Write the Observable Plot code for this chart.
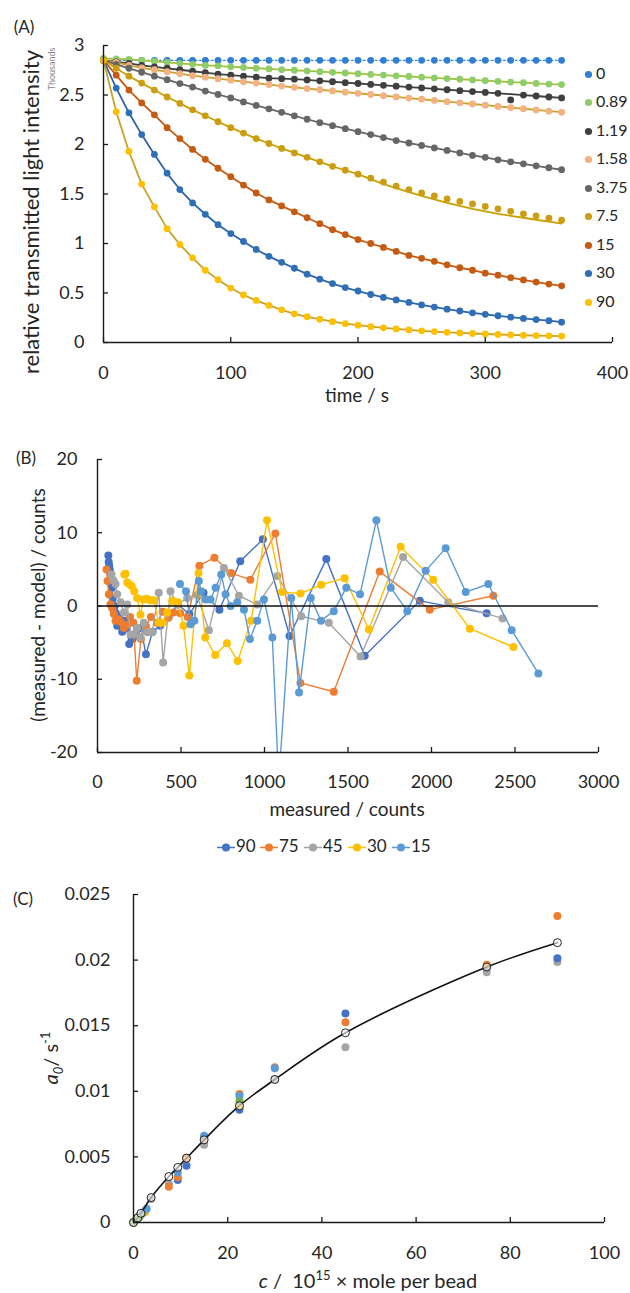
<!DOCTYPE html>
<html><head><meta charset="utf-8">
<script src="https://cdn.jsdelivr.net/npm/d3@7"></script>
<script src="https://cdn.jsdelivr.net/npm/@observablehq/plot@0.6"></script>
<style>
html,body{margin:0;padding:0;background:#fff;}
#fig{position:relative;width:630px;height:1293px;font-family:Lato,"Open Sans",sans-serif;color:#262626;overflow:hidden;}
#fig svg.panel{position:absolute;left:0;}
.t{position:absolute;white-space:nowrap;line-height:1;}
.c{transform:translate(-50%,-50%);}
.l{transform:translate(0,-50%);}
.r{transform:translate(-50%,-50%) rotate(-90deg);}
sup,sub{font-size:65%;line-height:0;}
</style></head><body><div id="fig"></div>
<script>
// ---------------- Panel A data ----------------
const timesA = [0,10,20,30,40,50,60,70,80,90,100,110,120,130,140,150,160,170,180,190,200,210,220,230,240,250,260,270,280,290,300,310,320,330,340,350,360];
const seriesA = ["0","0.89","1.19","1.58","3.75","7.5","15","30","90"];
const a_0   = [2.85,2.85,2.85,2.85,2.85,2.85,2.85,2.85,2.85,2.85,2.85,2.85,2.85,2.85,2.85,2.85,2.85,2.85,2.85,2.85,2.85,2.85,2.85,2.85,2.85,2.85,2.85,2.85,2.85,2.85,2.85,2.85,2.85,2.85,2.85,2.85,2.85];
const a_089 = [2.87,2.865,2.86,2.85,2.84,2.83,2.82,2.81,2.80,2.795,2.785,2.778,2.77,2.763,2.756,2.75,2.743,2.736,2.729,2.722,2.715,2.708,2.701,2.694,2.687,2.68,2.673,2.666,2.659,2.652,2.645,2.638,2.631,2.624,2.617,2.61,2.605];
const a_119 = [2.85,2.835,2.82,2.80,2.785,2.77,2.755,2.74,2.725,2.71,2.70,2.69,2.68,2.67,2.665,2.66,2.652,2.643,2.634,2.625,2.616,2.607,2.598,2.589,2.58,2.571,2.562,2.553,2.544,2.535,2.526,2.517,2.45,2.499,2.49,2.48,2.47];
const a_158 = [2.85,2.83,2.80,2.775,2.755,2.735,2.715,2.695,2.68,2.665,2.65,2.635,2.62,2.605,2.59,2.578,2.565,2.553,2.541,2.529,2.517,2.505,2.493,2.481,2.469,2.457,2.445,2.433,2.421,2.409,2.397,2.385,2.373,2.361,2.349,2.337,2.326];
const a_375 = [2.85,2.81,2.77,2.73,2.69,2.655,2.615,2.58,2.54,2.505,2.47,2.43,2.395,2.36,2.325,2.29,2.255,2.22,2.19,2.16,2.13,2.10,2.07,2.04,2.015,1.99,1.965,1.94,1.915,1.89,1.87,1.845,1.825,1.805,1.785,1.765,1.745];
const a_75  = [2.85,2.77,2.69,2.62,2.55,2.48,2.415,2.35,2.29,2.23,2.17,2.115,2.06,2.01,1.96,1.915,1.87,1.825,1.78,1.74,1.70,1.66,1.62,1.58,1.545,1.51,1.48,1.45,1.425,1.40,1.375,1.35,1.325,1.30,1.28,1.255,1.235];
const a_15  = [2.85,2.70,2.55,2.42,2.30,2.17,2.06,1.95,1.85,1.76,1.675,1.59,1.51,1.44,1.38,1.32,1.26,1.20,1.14,1.09,1.04,1.00,0.96,0.92,0.88,0.85,0.82,0.785,0.755,0.73,0.70,0.68,0.655,0.632,0.61,0.59,0.572];
const a_30  = [2.85,2.57,2.32,2.10,1.90,1.71,1.545,1.41,1.295,1.19,1.10,1.02,0.94,0.87,0.81,0.75,0.69,0.64,0.595,0.555,0.52,0.485,0.455,0.43,0.405,0.38,0.358,0.337,0.318,0.30,0.285,0.27,0.256,0.243,0.232,0.22,0.205];
const a_90  = [2.85,2.33,1.93,1.60,1.37,1.15,0.99,0.855,0.73,0.635,0.55,0.48,0.425,0.375,0.33,0.29,0.26,0.235,0.21,0.19,0.175,0.16,0.148,0.137,0.127,0.118,0.11,0.103,0.097,0.091,0.086,0.081,0.077,0.073,0.07,0.067,0.065];
const fit_119 = [2.85,2.835,2.82,2.80,2.785,2.77,2.755,2.74,2.725,2.71,2.70,2.69,2.68,2.67,2.665,2.66,2.652,2.643,2.634,2.625,2.616,2.607,2.598,2.589,2.58,2.571,2.562,2.553,2.544,2.535,2.526,2.517,2.508,2.499,2.49,2.48,2.47];
const fit_75  = [2.85,2.77,2.69,2.62,2.55,2.48,2.415,2.35,2.29,2.23,2.17,2.115,2.06,2.01,1.96,1.915,1.87,1.825,1.78,1.74,1.70,1.65,1.60,1.56,1.52,1.48,1.445,1.41,1.38,1.35,1.325,1.30,1.28,1.26,1.24,1.22,1.20];
const valuesA = [a_0,a_089,a_119,a_158,a_375,a_75,a_15,a_30,a_90];
const fitsA   = [a_0,a_089,fit_119,a_158,a_375,fit_75,a_15,a_30,a_90];
const yTicksA = [0,0.5,1,1.5,2,2.5,3];
const xTicksA = [0,100,200,300,400];
const dotColorsA  = ["#2f7fd3","#8ccf6a","#3f3f3f","#f4b183","#666666","#cc9d12","#c55a11","#2e6fb8","#ffc000"];
const lineColorsA = ["#2f7fd3","#a9bd3a","#3f3f3f","#c9a227","#666666","#c9a000","#c55a11","#2e64a8","#c9a227"];

// ---------------- Panel B data ----------------
const seriesB = ["90","75","45","30","15"];
const b90_x = [2330,1930,1600,1370,1150,990,855,730,635,550,480,425,375,330,290,260,235,210,190,175,160,148,137,127,118,110,103,97,91,86,81,77,73,70,67,65];
const b90_y = [-1.0,0.7,-6.8,6.4,-4.1,9.1,6.1,-0.5,1.8,-1.1,0.2,-1.5,-2.7,-3.5,-6.6,-3.0,-4.0,-4.5,-5.2,-3.0,-2.0,-3.5,-2.5,-1.5,-2.7,-1.0,0.0,-0.5,1.0,2.5,3.0,4.5,5.0,5.5,6.0,6.9];
const b75_x = [2370,1990,1690,1415,1215,1065,915,800,700,610,540,495,455,425,390,357,320,290,260,235,215,195,175,158,140,125,108,98,88,78,68,60,54];
const b75_y = [1.4,-0.5,4.7,-11.7,-10.5,9.9,3.6,4.5,6.6,5.5,-1.5,-1.0,-0.9,-1.6,-0.8,-2.3,-1.5,-2.8,-4.5,-10.2,-2.3,-1.5,-2.6,-3.0,-2.2,-1.8,-2.0,-1.1,-0.3,0.2,1.6,3.4,5.0];
const b45_x = [2425,2100,1830,1575,1385,1220,1077,957,847,757,667,595,537,480,437,393,367,327,298,277,257,237,218,198,178,158,138,118,108,95,84];
const b45_y = [-1.7,0.5,6.7,-6.9,-2.3,-1.4,4.1,0.2,1.4,5.2,-3.3,1.5,1.1,0.2,2.0,-7.7,1.8,-3.6,-3.6,-2.3,-4.3,-3.0,-3.9,-3.9,0.2,-0.9,0.5,1.6,3.0,3.5,4.3];
const b30_x = [2490,2230,2010,1815,1625,1480,1340,1215,1105,1015,920,840,775,705,645,605,550,515,480,447,417,390,367,337,315,295,275,257,237,220,205,190,178,168,160];
const b30_y = [-5.6,-3.1,3.6,8.1,-3.2,3.8,2.9,1.7,1.9,11.7,-2.0,-7.5,-5.1,-6.7,-4.3,4.5,-9.5,-2.7,0.5,0.7,-0.9,-2.3,-2.3,0.8,0.8,1.0,0.9,-1.2,1.1,2.0,2.7,3.0,3.2,4.4,4.3];
const b15_x = [2640,2480,2340,2205,2085,1965,1855,1756,1670,1572,1490,1415,1338,1277,1207,1160,1085,1047,997,957,913,877,837,797,767,741,707,677,647,620,607,580,557,530,494];
const b15_y = [-9.2,-3.3,3.0,1.9,7.9,4.8,-0.7,2.5,11.7,1.6,2.5,-0.7,-2.0,1.1,-11.8,1.1,-24,-4.3,0.9,-2.0,-4.5,-0.5,0.5,0.0,1.6,4.3,2.5,0.9,0.9,2.0,3.4,-2.0,-2.5,2.0,3.0];
const xsB = [b90_x,b75_x,b45_x,b30_x,b15_x];
const ysB = [b90_y,b75_y,b45_y,b30_y,b15_y];
const colorsB = ["#4472c4","#ed7d31","#a5a5a5","#ffc000","#5b9bd5"];
const yTicksB = [-20,-10,0,10,20];
const xTicksB = [0,500,1000,1500,2000,2500,3000];

// ---------------- Panel C data ----------------
const seriesC = ["blue","orange","gray","yellow","lightblue","green"];
const cBlue_x = [0,1.19,2.5,9.4,11.25,15,22.5,45,75,90];
const cBlue_y = [0,0.0005,0.0009,0.00324,0.00433,0.0065,0.0086,0.01593,0.0195,0.02015];
const cOrange_x = [0,1.58,7.5,9.4,11.25,15,22.5,30,45,75,90];
const cOrange_y = [0,0.0006,0.00272,0.00344,0.0049,0.00644,0.0098,0.01183,0.01527,0.01965,0.02336];
const cGray_x = [0,3.75,7.5,11.25,15,22.5,30,45,75,90];
const cGray_y = [0,0.0018,0.00298,0.00496,0.00593,0.0088,0.01089,0.01336,0.01908,0.01985];
const cYellow_x = [0,0.89,2.5,22.5];
const cYellow_y = [0,0.0003,0.0008,0.0089];
const cLight_x = [0,1.9,2.8,9.4,15,22.5,30];
const cLight_y = [0,0.0007,0.00104,0.00382,0.00662,0.00967,0.01176];
const cGreen_x = [0,1.19,22.5];
const cGreen_y = [0,0.0004,0.00924];
const xsC = [cGray_x,cBlue_x,cOrange_x,cYellow_x,cLight_x,cGreen_x];
const ysC = [cGray_y,cBlue_y,cOrange_y,cYellow_y,cLight_y,cGreen_y];
const colorsC = ["#a5a5a5","#4472c4","#ed7d31","#ffc000","#5b9bd5","#70ad47"];
const modelC_x = [0,0.89,1.58,3.75,7.5,9.4,11.25,15,22.5,30,45,75,90];
const modelC_y = [0,0.00035,0.0007,0.0019,0.0035,0.0042,0.0049,0.0063,0.0089,0.0109,0.01446,0.01947,0.02133];
const yTicksC = [0,0.005,0.01,0.015,0.02,0.025];
const xTicksC = [0,20,40,60,80,100];

// ---------------- helpers ----------------
const fig = document.getElementById("fig");
const AX = "#1a1a1a";
function addPanel(svg, top){ svg.classList.add("panel"); svg.style.top = top + "px"; fig.appendChild(svg); }
function addText(html, x, y, size, cls="c", extra={}){
  const d = document.createElement("div");
  d.className = "t " + cls;
  d.innerHTML = html;
  d.style.left = x + "px"; d.style.top = y + "px"; d.style.fontSize = size + "px";
  Object.assign(d.style, extra);
  fig.appendChild(d);
  return d;
}
function axes(xTicks, yTicks, xPad, yPad, fmtY){
  return [
    Plot.axisY({ticks: yTicks, tickSize: 0, tickPadding: yPad, tickFormat: fmtY || (d => String(d)), label: null}),
    Plot.axisY({ticks: yTicks, tickSize: 5, dx: 5, tickFormat: () => "", label: null, stroke: AX, strokeWidth: 1.3}),
    Plot.axisX({ticks: xTicks, tickSize: 0, tickPadding: xPad, tickFormat: d => String(d), label: null}),
    Plot.axisX({ticks: xTicks, tickSize: 5, dy: -5, tickFormat: () => "", label: null, stroke: AX, strokeWidth: 1.3})
  ];
}
const baseStyle = {fontFamily: "Lato, 'Open Sans', sans-serif", fontSize: "18px", color: "#262626", background: "transparent", overflow: "visible"};

// ---------------- Panel A ----------------
const marksA = [];
seriesA.forEach((s, i) => {
  const pts = timesA.map((t, j) => ({t, v: valuesA[i][j]}));
  const fit = timesA.map((t, j) => ({t, v: fitsA[i][j]}));
  const lo = {x: "t", y: "v", stroke: lineColorsA[i], strokeWidth: i === 0 ? 1.3 : 1.8};
  if (i === 0) lo.strokeDasharray = "1.5,2.5";
  marksA.push(Plot.line(fit, lo));
  marksA.push(Plot.dot(pts, {x: "t", y: "v", r: 3.4, fill: dotColorsA[i], stroke: "none"}));
});
const plotA = Plot.plot({
  width: 630, height: 400, marginLeft: 103, marginRight: 18, marginTop: 45, marginBottom: 58,
  style: baseStyle,
  x: {domain: [0, 400]}, y: {domain: [0, 3]},
  marks: [
    ...marksA,
    Plot.ruleX([0], {stroke: AX, strokeWidth: 1.4}),
    Plot.ruleY([0], {stroke: AX, strokeWidth: 1.4}),
    ...axes(xTicksA, yTicksA, 24, 19)
  ]
});
addPanel(plotA, 0);
addText("(A)", 24, 26, 17);
addText("relative transmitted light intensity", 31, 212, 22, "r");
addText("Thousands", 51, 69, 9, "r", {color: "#888"});
addText("time / s", 357, 394, 19);
seriesA.forEach((s, i) => {
  const y = 72.5 + i * 28.5;
  addText(`<svg width="9" height="9" style="vertical-align:middle;margin-right:3px"><circle cx="4.5" cy="4.5" r="3.6" fill="${dotColorsA[i]}"/></svg>${s}`, 584, y, 16, "l");
});

// ---------------- Panel B ----------------
const marksB = [];
seriesB.forEach((s, i) => {
  const pts = xsB[i].map((x, j) => ({x, y: ysB[i][j]}));
  marksB.push(Plot.line(pts, {x: "x", y: "y", stroke: colorsB[i], strokeWidth: 1.4, clip: true}));
  marksB.push(Plot.dot(pts, {x: "x", y: "y", r: 4, fill: colorsB[i], stroke: "none", clip: true}));
});
const plotB = Plot.plot({
  width: 630, height: 380, marginLeft: 97, marginRight: 32, marginTop: 19, marginBottom: 68,
  style: baseStyle,
  x: {domain: [0, 3000]}, y: {domain: [-20, 20]},
  marks: [
    ...marksB,
    Plot.ruleY([0], {stroke: "#111", strokeWidth: 1.6}),
    Plot.ruleX([0], {stroke: AX, strokeWidth: 1.4}),
    Plot.ruleY([-20], {stroke: AX, strokeWidth: 1.4}),
    ...axes(xTicksB, yTicksB, 23, 20)
  ]
});
addPanel(plotB, 440);
addText("(B)", 26, 457, 17);
addText("(measured - model) / counts", 37, 605, 19, "r");
addText("measured / counts", 347, 808, 19);
const legX = [217, 260, 304, 348, 392];
seriesB.forEach((s, i) => {
  addText(`<svg width="18" height="10" style="vertical-align:middle;margin-right:1px"><line x1="0" y1="5" x2="18" y2="5" stroke="${colorsB[i]}" stroke-width="1.6"/><circle cx="9" cy="5" r="4" fill="${colorsB[i]}"/></svg>${s}`, legX[i], 845, 17, "l");
});

// ---------------- Panel C ----------------
const marksC = [];
seriesC.forEach((s, i) => {
  const pts = xsC[i].map((x, j) => ({x, y: ysC[i][j]}));
  marksC.push(Plot.dot(pts, {x: "x", y: "y", r: 4, fill: colorsC[i], stroke: "none"}));
});
const modelPts = modelC_x.map((x, j) => ({x, y: modelC_y[j]}));
const plotC = Plot.plot({
  width: 630, height: 423, marginLeft: 133, marginRight: 26, marginTop: 24, marginBottom: 71,
  style: baseStyle,
  x: {domain: [0, 100]}, y: {domain: [0, 0.025]},
  marks: [
    ...marksC,
    Plot.line(modelPts, {x: "x", y: "y", stroke: "#111", strokeWidth: 1.6, curve: "catmull-rom"}),
    Plot.dot(modelPts, {x: "x", y: "y", r: 4, fill: "white", fillOpacity: 0.6, stroke: "#222", strokeWidth: 1}),
    Plot.ruleX([0], {stroke: AX, strokeWidth: 1.4}),
    Plot.ruleY([0], {stroke: AX, strokeWidth: 1.4}),
    ...axes(xTicksC, yTicksC, 24, 23)
  ]
});
addPanel(plotC, 870);
addText("(C)", 23, 898, 17);
addText("<i>a</i><sub><i>0</i></sub>/ s<sup>-1</sup>", 50, 1058, 20, "r");
addText("<i>c</i> /&nbsp; 10<sup>15</sup> × mole per bead", 368, 1280, 20);
</script></body></html>
